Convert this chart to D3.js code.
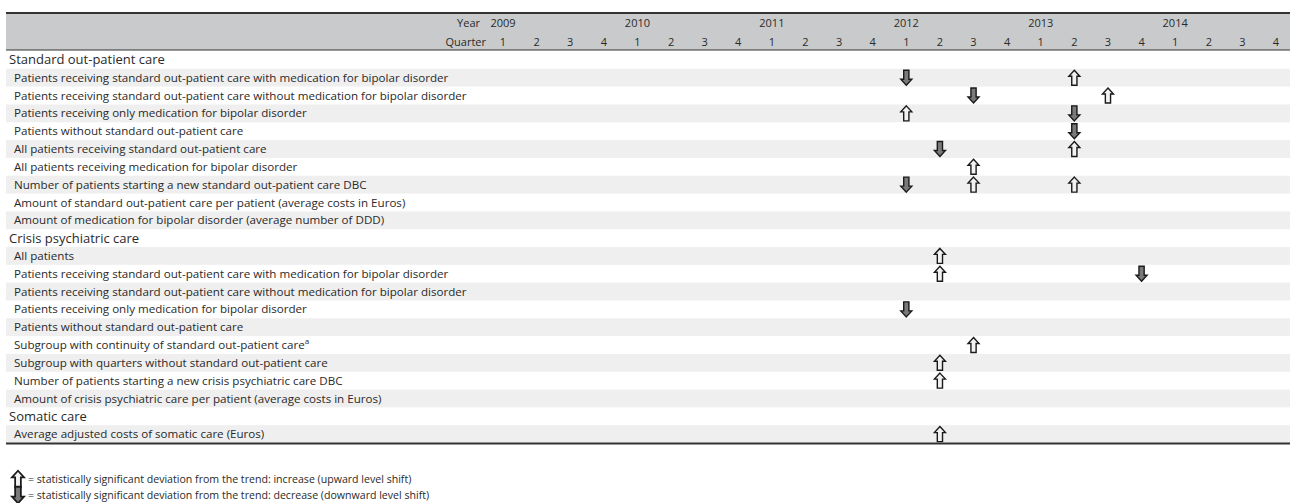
<!DOCTYPE html>
<html>
<head>
<meta charset="utf-8">
<script src="https://cdn.jsdelivr.net/npm/d3@7"></script>
<style>
  html, body { margin: 0; padding: 0; background: #fff; }
  text { font-family: "Open Sans", "Noto Sans", sans-serif; fill: #2a2a2a; }
</style>
</head>
<body>
<div id="chart"></div>
<script>
// table data
const years = [2009, 2010, 2011, 2012, 2013, 2014];
const quarters = [1, 2, 3, 4];

const sections = ["Standard out-patient care", "Crisis psychiatric care", "Somatic care"];

const standardRows = [
  "Patients receiving standard out-patient care with medication for bipolar disorder",
  "Patients receiving standard out-patient care without medication for bipolar disorder",
  "Patients receiving only medication for bipolar disorder",
  "Patients without standard out-patient care",
  "All patients receiving standard out-patient care",
  "All patients receiving medication for bipolar disorder",
  "Number of patients starting a new standard out-patient care DBC",
  "Amount of standard out-patient care per patient (average costs in Euros)",
  "Amount of medication for bipolar disorder (average number of DDD)"
];
const crisisRows = [
  "All patients",
  "Patients receiving standard out-patient care with medication for bipolar disorder",
  "Patients receiving standard out-patient care without medication for bipolar disorder",
  "Patients receiving only medication for bipolar disorder",
  "Patients without standard out-patient care",
  "Subgroup with continuity of standard out-patient care",
  "Subgroup with quarters without standard out-patient care",
  "Number of patients starting a new crisis psychiatric care DBC",
  "Amount of crisis psychiatric care per patient (average costs in Euros)"
];
const somaticRows = [
  "Average adjusted costs of somatic care (Euros)"
];
const footnoted = ["Subgroup with continuity of standard out-patient care"];

// level shifts: [section, row, year, quarter, direction]
const shifts = [
  [0, 0, 2012, 1, "down"], [0, 0, 2013, 2, "up"],
  [0, 1, 2012, 3, "down"], [0, 1, 2013, 3, "up"],
  [0, 2, 2012, 1, "up"],   [0, 2, 2013, 2, "down"],
  [0, 3, 2013, 2, "down"],
  [0, 4, 2012, 2, "down"], [0, 4, 2013, 2, "up"],
  [0, 5, 2012, 3, "up"],
  [0, 6, 2012, 1, "down"], [0, 6, 2012, 3, "up"], [0, 6, 2013, 2, "up"],
  [1, 0, 2012, 2, "up"],
  [1, 1, 2012, 2, "up"],   [1, 1, 2013, 4, "down"],
  [1, 3, 2012, 1, "down"],
  [1, 5, 2012, 3, "up"],
  [1, 6, 2012, 2, "up"],
  [1, 7, 2012, 2, "up"],
  [2, 0, 2012, 2, "up"]
];

const legendItems = [
  ["up", "= statistically significant deviation from the trend: increase (upward level shift)"],
  ["down", "= statistically significant deviation from the trend: decrease (downward level shift)"]
];

const width = 1290, height = 503;
const left = 6;

const svg = d3.select("#chart").append("svg")
    .attr("width", width)
    .attr("height", height);

// build the list of lines
const groups = [standardRows, crisisRows, somaticRows];
const lines = [];
groups.forEach((rows, s) => {
  lines.push({type: "section", label: sections[s], s});
  rows.forEach((label, r) => lines.push({type: "row", label, s, r}));
});

const y = d3.scaleBand()
    .domain(d3.range(lines.length))
    .range([51, 443]);

const keys = years.flatMap(yr => quarters.map(q => `${yr}-${q}`));
const x = d3.scalePoint()
    .domain(keys)
    .range([503, 1276]);

// header band
svg.append("rect")
    .attr("x", left).attr("y", 13)
    .attr("width", width - left).attr("height", 37)
    .attr("fill", "#c9cacb");
svg.append("line")
    .attr("x1", left).attr("x2", width)
    .attr("y1", 13).attr("y2", 13)
    .attr("stroke", "#333").attr("stroke-width", 1.8);
svg.append("line")
    .attr("x1", left).attr("x2", width)
    .attr("y1", 50).attr("y2", 50)
    .attr("stroke", "#333").attr("stroke-width", 1.2);

const header = svg.append("g").attr("font-size", 11);
header.append("text")
    .attr("x", 480).attr("y", 27)
    .attr("text-anchor", "end")
    .text("Year");
header.append("text")
    .attr("x", 486).attr("y", 46)
    .attr("text-anchor", "end")
    .text("Quarter");
header.selectAll(".yr")
  .data(years)
  .join("text")
    .attr("class", "yr")
    .attr("x", d => x(`${d}-1`))
    .attr("y", 27)
    .attr("text-anchor", "middle")
    .text(d => d);
header.selectAll(".qt")
  .data(keys)
  .join("text")
    .attr("class", "qt")
    .attr("x", d => x(d))
    .attr("y", 46)
    .attr("text-anchor", "middle")
    .attr("fill", "#444")
    .text(d => d.split("-")[1]);

// stripes
svg.append("g")
  .selectAll("rect")
  .data(lines.filter(d => d.type === "row" && d.r % 2 === 0))
  .join("rect")
    .attr("x", left)
    .attr("y", d => y(lines.indexOf(d)))
    .attr("width", width - left)
    .attr("height", y.bandwidth())
    .attr("fill", "#efefef");

// labels
const labels = svg.append("g")
  .selectAll("text")
  .data(lines)
  .join("text")
    .attr("x", d => d.type === "section" ? 9 : 14)
    .attr("y", (d, i) => y(i) + y.bandwidth() / 2)
    .attr("dy", "0.35em")
    .attr("font-size", d => d.type === "section" ? 13 : 11.6)
    .attr("fill", d => d.type === "section" ? "#111" : "#333")
    .text(d => d.label);

labels.filter(d => footnoted.includes(d.label))
  .append("tspan")
    .attr("font-size", 8)
    .attr("dy", "-0.6em")
    .text("a");

svg.append("line")
    .attr("x1", left).attr("x2", width)
    .attr("y1", 443.5).attr("y2", 443.5)
    .attr("stroke", "#333").attr("stroke-width", 1.8);

// arrow glyphs
function arrowPath(dir) {
  // block arrow pointing up, centred at 0,0
  const p = [[0, -7.5], [5.5, -1.5], [2.6, -1.5], [2.6, 7.5], [-2.6, 7.5], [-2.6, -1.5], [-5.5, -1.5]];
  const pts = dir === "up" ? p : p.map(([a, b]) => [a, -b]);
  return "M" + pts.map(q => q.join(",")).join("L") + "Z";
}

function lineIndex(s, r) {
  return lines.findIndex(d => d.type === "row" && d.s === s && d.r === r);
}

svg.append("g")
  .selectAll("path")
  .data(shifts)
  .join("path")
    .attr("transform", d => `translate(${x(`${d[2]}-${d[3]}`)},${y(lineIndex(d[0], d[1])) + y.bandwidth() / 2})`)
    .attr("d", d => arrowPath(d[4]))
    .attr("fill", d => d[4] === "up" ? "#f2f2f2" : "#7a7a7a")
    .attr("stroke", "#1a1a1a")
    .attr("stroke-width", 1.4)
    .attr("stroke-linejoin", "miter");

// legend
const legend = svg.append("g")
  .selectAll("g")
  .data(legendItems)
  .join("g")
    .attr("transform", (d, i) => `translate(0,${479 + i * 16})`);
legend.append("path")
    .attr("transform", "translate(18,0) scale(1.1)")
    .attr("d", d => arrowPath(d[0]))
    .attr("fill", d => d[0] === "up" ? "#f2f2f2" : "#7a7a7a")
    .attr("stroke", "#1a1a1a")
    .attr("stroke-width", 1.6);
legend.append("text")
    .attr("x", 28)
    .attr("dy", "0.35em")
    .attr("font-size", 10.6)
    .attr("fill", "#333")
    .text(d => d[1]);
</script>
</body>
</html>
